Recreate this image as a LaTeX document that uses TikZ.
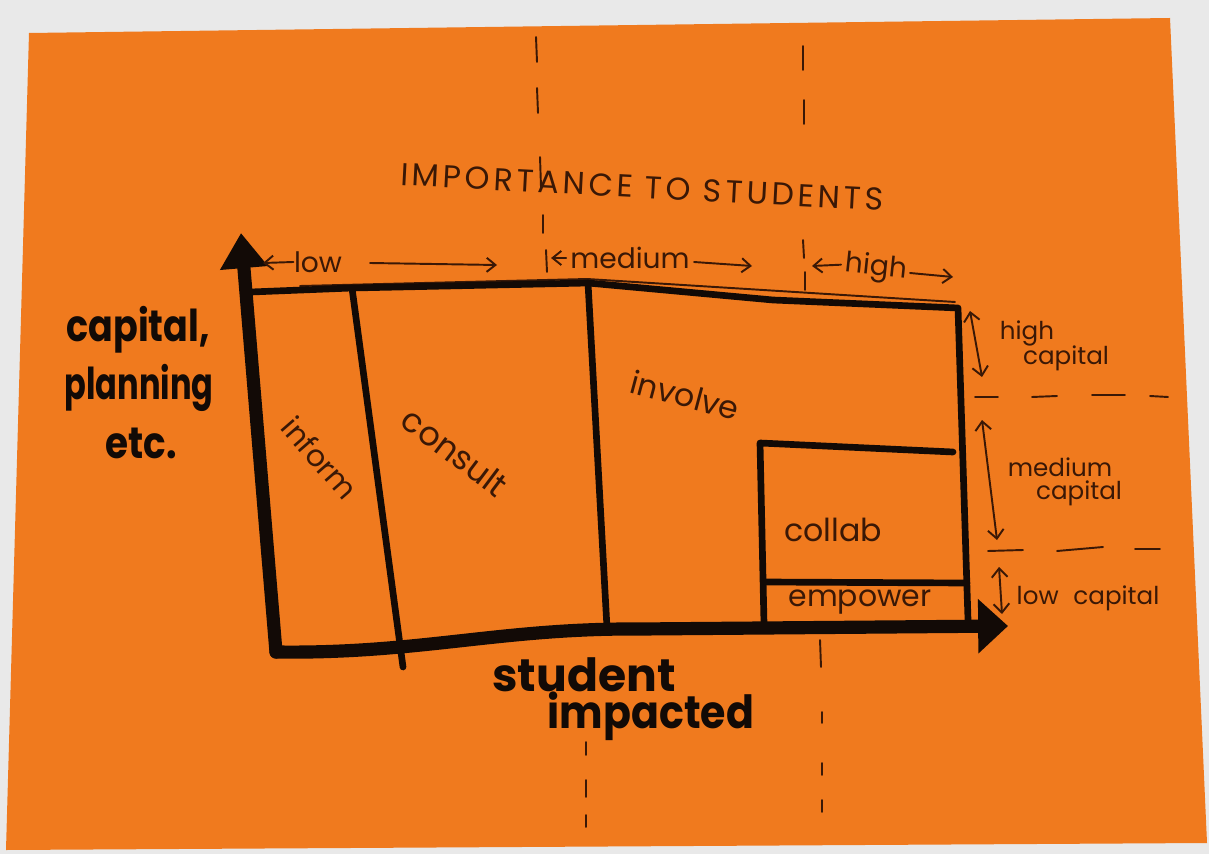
\documentclass[tikz,border=0pt]{standalone}
\usepackage{fontspec}
\setmainfont{Poppins}
\usetikzlibrary{arrows.meta}

\definecolor{wall}{RGB}{233,233,233}
\definecolor{paper}{RGB}{240,122,30}
\definecolor{pen}{RGB}{58,24,6}
\definecolor{marker}{RGB}{18,10,6}

\begin{document}
\begin{tikzpicture}[x=0.02cm, y=-0.02cm, thick,
  pen/.style={draw=pen, line width=1.1pt, line cap=round},
  penarrow/.style={pen, -{Straight Barb[length=5pt, width=8pt]}},
  penboth/.style={pen, {Straight Barb[length=5pt, width=9pt]}-{Straight Barb[length=5pt, width=9pt]}},
  ink/.style={draw=marker, line width=3.8pt, line cap=round, line join=round},
  axis/.style={draw=marker, line width=7.5pt, line cap=round, line join=round},
  penlabel/.style={text=pen, inner sep=0pt, font=\fontsize{16}{19}\selectfont},
  smalllabel/.style={text=pen, inner sep=0pt, font=\fontsize{14}{17}\selectfont},
  markerlabel/.style={text=marker, inner sep=0pt, font=\bfseries\fontsize{25}{28}\selectfont}]
%%%%%%%%%%%%%%%%%%%%%%%%%%%%%%%%%%%%%%%%%%% HELP LINES
%\draw[help lines] (0,0) grid (1209,854);

%%%%%%%%%%%%%%%%%%%%%%%%%%%%%%%%%%%%%%%%%%% paper
\useasboundingbox (0,0) rectangle (1209,854);
\fill[wall] (0,0) rectangle (1209,854);
\fill[paper] (29,33) -- (1170,18) -- (1207,843) -- (6,850) -- cycle;

%%%%% dashed guides
\draw[pen] (536,37) -- (537,62) (537,88) -- (538,113) (540,157) -- (541,187) (543,215) -- (543,233) (546,250) -- (547,272);
\draw[pen] (803,46) -- (803,70) (804,100) -- (804,124) (803,240) -- (804,258) (805,272) -- (805,290);
\draw[pen] (586,742) -- (586,755) (586,780) -- (586,797) (586,815) -- (586,827);
\draw[pen] (820,640) -- (821,667) (822,712) -- (822,723) (822,763) -- (822,775) (822,800) -- (822,812);
\draw[pen] (975,397) -- (998,397) (1032,397) -- (1057,396) (1092,395) -- (1125,395) (1150,396) -- (1168,397);
\draw[pen] (988,551) -- (1023,550) (1057,551) -- (1103,547) (1135,549) -- (1160,549);

%%%%%%%%%%%%%%%%%%%%%%%%%%%%%%%%%%%%%%%%%%% axes
\coordinate (O) at (276,652);
\coordinate (ytip) at (241,233);
\coordinate (xtip) at (1008,626);
\draw[axis, -{Triangle[width=26pt, length=20pt]}] (O) -- (ytip);
\draw[axis, -{Triangle[width=30pt, length=17pt]}] (O) .. controls (420,654) and (500,628) .. (640,629) -- (xtip);

%%%%%%%%%%%%%%%%%%%%%%%%%%%%%%%%%%%%%%%%%%% elements
\coordinate (tl) at (251,292);
\coordinate (a1) at (352,288);
\coordinate (a2) at (588,283);
\coordinate (tm) at (773,300);
\coordinate (tr) at (958,308);
\coordinate (br) at (968,620);
\coordinate (b1) at (403,667);
\coordinate (b2) at (607,628);
\coordinate (c1) at (760,443);
\coordinate (c2) at (953,452);
\coordinate (c3) at (764,624);
\coordinate (e1) at (764,582);
\coordinate (e2) at (967,583);

\draw[pen] (300,286) -- (587,279) -- (955,302);
\draw[ink] (tl) -- (a1) -- (a2) -- (tm) -- (tr) -- (br);
\draw[ink] (a1) -- (b1);
\draw[ink] (a2) -- (b2);
\draw[ink] (c2) -- (c1) -- (c3);
\draw[ink] (e1) -- (e2);

%%%%% boxes
\node[penlabel, rotate=-49, font=\fontsize{17}{20}\selectfont](inform) at (320,458) {inform};
\node[penlabel, rotate=-37, font=\fontsize{19}{22}\selectfont](consult) at (455,452) {consult};
\node[penlabel, rotate=-15, font=\fontsize{18}{20}\selectfont](involve) at (685,395) {involve};
\node[penlabel, font=\fontsize{18}{20}\selectfont](collab) at (833,530) {collab};
\node[penlabel, font=\fontsize{17}{20}\selectfont](empower) at (860,602) {empower};

%%%%% importance to students
\node[penlabel, rotate=-3, font=\fontsize{18}{21}\selectfont\addfontfeature{LetterSpace=12}](title) at (642,187) {IMPORTANCE TO STUDENTS};

\node[penlabel](low) at (318,262) {low};
\coordinate (lowl) at (263,263);
\coordinate (lowa) at (370,263);
\coordinate (lowb) at (497,265);
\draw[penarrow] (low.west) -- (lowl);
\draw[penarrow] (lowa) -- (lowb);

\node[penlabel](medium) at (630,258) {medium};
\coordinate (medl) at (551,258);
\coordinate (meda) at (694,262);
\coordinate (medb) at (752,266);
\draw[penarrow] ([xshift=-2pt]medium.west) -- (medl);
\draw[penarrow] (meda) -- (medb);

\node[penlabel, rotate=-6](high) at (876,268) {high};
\coordinate (highl) at (812,266);
\coordinate (higha) at (910,273);
\coordinate (highb) at (953,277);
\draw[penarrow] ([xshift=-2pt]high.west) -- (highl);
\draw[penarrow] (higha) -- (highb);

%%%%% capital levels
\node[smalllabel](hcap) at (1027,333) {high};
\node[smalllabel](hcapb) at (1066,358) {capital};
\node[smalllabel](mcap) at (1060,467) {medium};
\node[smalllabel](mcapb) at (1079,493) {capital};
\node[smalllabel](lcap) at (1088,598) {low\hspace{0.6em}capital};
\coordinate (h1) at (970,311);
\coordinate (h2) at (982,377);
\coordinate (m1) at (982,420);
\coordinate (m2) at (997,540);
\coordinate (l1) at (999,567);
\coordinate (l2) at (1002,614);
\draw[penboth] (h1) -- (h2);
\draw[penboth] (m1) -- (m2);
\draw[penboth] (l1) -- (l2);

%%%%% axis names
\node[markerlabel, xscale=0.83](cap) at (138,330) {capital,};
\node[markerlabel, xscale=0.73](plan) at (139,388) {planning};
\node[markerlabel, xscale=0.85](etc) at (141,443) {etc.};
\node[markerlabel, font=\bfseries\fontsize{26}{28}\selectfont](student) at (584,675) {student};
\node[markerlabel, xscale=0.9, font=\bfseries\fontsize{26}{28}\selectfont](impacted) at (651,716) {impacted};
\end{tikzpicture}
\end{document}
